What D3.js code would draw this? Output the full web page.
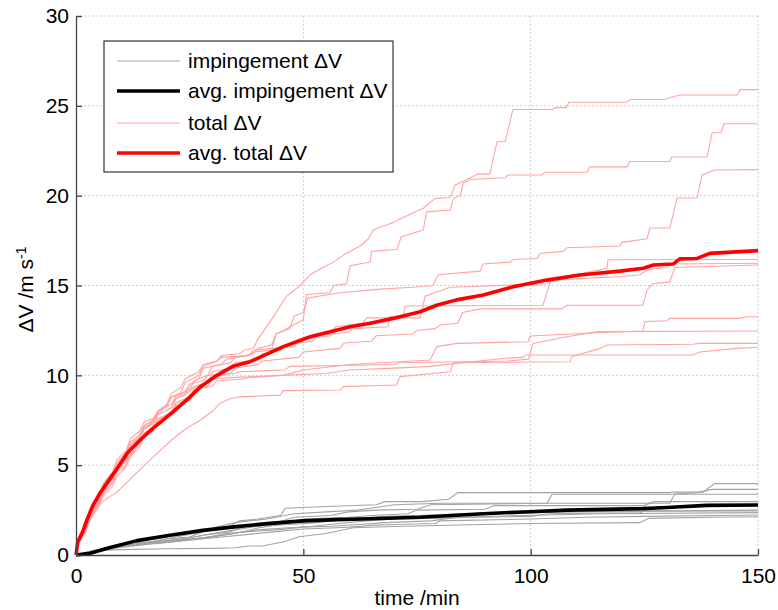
<!DOCTYPE html>
<html>
<head>
<meta charset="utf-8">
<script src="https://cdn.jsdelivr.net/npm/d3@7"></script>
<style>
  body { margin: 0; background: #fff; }
  svg text { font-family: "Liberation Sans", Arial, sans-serif; fill: #000; }
</style>
</head>
<body>
<div id="chart"></div>
<script>
/*
   Delta-V over time, single runs and averages (D3 v7)
*/

// axis ticks
var xTicks = [0, 50, 100, 150];
var yTicks = [0, 5, 10, 15, 20, 25, 30];

// legend labels
var legendLabels = ["impingement \u0394V", "avg. impingement \u0394V", "total \u0394V", "avg. total \u0394V"];

// single runs, impingement dV  [time min, dV m/s]
var imp1 = [[0,0],[3,0.15],[8,0.4],[12,0.6],[16,0.7],[20,0.9],[25,1.0],[28,1.3],[33,1.5],[36,1.9],[40,2.0],[45,2.2],[46,2.6],[55,2.7],[66,2.8],[68,2.97],[76,2.97],[82,3.1],[84,3.47],[130.6,3.47],[131,3.5],[138,3.5],[139,3.7],[140.5,3.97],[150,3.97]];
var imp2 = [[0,0],[3,0.2],[8,0.45],[12,0.55],[18,0.8],[22,1.0],[26,1.2],[30,1.5],[35,1.8],[38,1.9],[42,2.0],[48,2.3],[55,2.4],[62,2.5],[70,2.8],[80,2.88],[130.6,2.88],[131.7,3.4],[136.6,3.47],[139.9,3.65],[150,3.65]];
var imp3 = [[0,0],[4,0.2],[9,0.5],[13,0.7],[18,0.75],[24,0.9],[28,1.1],[34,1.3],[38,1.7],[44,1.8],[48,2.1],[56,2.2],[60,2.4],[66,2.5],[75,2.55],[78,2.8],[103.6,2.88],[104.7,3.38],[150,3.38]];
var imp4 = [[0,0],[5,0.25],[9,0.5],[14,0.6],[20,0.75],[26,0.9],[30,1.0],[35,1.2],[40,1.5],[45,1.7],[50,2.0],[60,2.1],[65,2.2],[73,2.3],[75,2.5],[90,2.55],[92,2.75],[125,2.75],[127,2.97],[150,2.97]];
var imp5 = [[0,0],[4,0.15],[9,0.4],[14,0.55],[20,0.7],[26,0.9],[32,1.1],[36,1.25],[40,1.4],[46,1.5],[52,1.6],[58,1.75],[64,1.9],[70,2.0],[80,2.05],[88,2.1],[100,2.15],[104,2.3],[124,2.35],[125,2.45],[150,2.45]];
var imp6 = [[0,0],[5,0.2],[10,0.45],[15,0.6],[22,0.8],[28,0.95],[33,1.2],[38,1.3],[44,1.4],[50,1.55],[56,1.6],[62,1.7],[68,1.8],[78,1.9],[84,2.1],[98,2.2],[115,2.3],[150,2.36]];
var imp7 = [[0,0],[5,0.25],[10,0.3],[20,0.35],[30,0.37],[35,0.4],[38,0.5],[41,0.5],[46,0.75],[49,1.02],[55,1.2],[61,1.52],[72,1.6],[89.5,1.7],[100,1.75],[124,1.8],[126,2.04],[140,2.1],[150,2.13]];
var imp8 = [[0,0],[4,0.2],[9,0.45],[14,0.6],[20,0.7],[26,0.85],[32,1.0],[38,1.15],[44,1.3],[50,1.45],[56,1.5],[60,1.55],[65,1.65],[70,1.7],[79,1.75],[80,1.9],[100,2.0],[112,2.1],[125,2.15],[150,2.23]];
var imp9 = [[0,0],[4,0.2],[9,0.5],[14,0.6],[20,0.8],[26,1.0],[30,1.2],[35,1.4],[40,1.6],[47,1.7],[53,1.8],[60,2.0],[68,2.15],[75,2.2],[85,2.3],[100,2.35],[110,2.4],[150,2.5]];

// single runs, total dV
var tot1 = [[0,0],[0.5,0.8],[2,1.6],[3,2.4],[5,3.2],[6,4.0],[8,4.6],[9,5.3],[11,5.8],[12,6.5],[14,6.9],[15,7.4],[17,7.6],[18,8.0],[20,8.3],[21,8.8],[23,9.0],[24,9.6],[27,10.0],[28,10.5],[31,10.8],[32,11.1],[36,11.2],[37,11.4],[39,11.5],[40,12.0],[42.7,12.99],[46.3,14.4],[49.3,15.0],[51.5,15.6],[54,15.96],[56.6,16.3],[59.2,16.75],[62.5,17.2],[64.3,17.6],[65.4,18.1],[69.8,18.5],[71.3,18.7],[74.2,19.05],[76.4,19.3],[79,19.85],[82.3,19.9],[83.4,20.6],[85.2,20.8],[88.4,21.2],[91,21.2],[92.6,23.0],[94.4,23.0],[96.1,24.8],[104.7,24.8],[105.6,24.9],[107.8,24.9],[108.4,25.2],[121.2,25.2],[122,25.35],[129.5,25.35],[130.6,25.45],[132.8,25.6],[145.4,25.6],[146,25.9],[150,25.9]];
var tot2 = [[0,0],[0.7,0.9],[2,1.4],[3,2.2],[4.5,2.8],[5.5,3.6],[8,4.3],[9,5.0],[11,5.6],[12,6.2],[14,6.6],[15,7.1],[17,7.4],[18,7.8],[21,8.2],[22,8.7],[24,8.9],[25,9.5],[27,9.8],[28,10.4],[32,10.6],[33,10.9],[38,11.1],[39,11.3],[43,11.4],[44,12.3],[45.6,12.5],[50,13.1],[50.7,14.5],[55.9,14.6],[56.6,15.0],[59.5,15.1],[60.3,16.1],[64.7,16.3],[65,16.9],[70.6,17.0],[71.5,17.7],[76.4,18.1],[77.1,19.1],[82.3,19.2],[83,19.85],[84.5,20.0],[85.2,20.7],[86.7,20.9],[94.4,21.0],[95,21.15],[102.5,21.15],[103.1,21.3],[112.4,21.3],[113,21.6],[121.2,21.6],[121.8,21.9],[130.6,21.9],[131,22.15],[138.8,22.15],[139.9,23.5],[141.9,23.5],[142.5,24.0],[150,24.0]];
var tot3 = [[0,0],[0.5,0.7],[2,1.5],[3,2.1],[5,3.0],[6,3.7],[8,4.2],[9,4.9],[11,5.3],[12,5.9],[14,6.5],[15,7.0],[17,7.3],[18,7.8],[21,8.2],[22,8.9],[25,9.2],[26,9.7],[29,10.0],[30,10.5],[34,10.7],[35,11.0],[39,11.2],[40,11.5],[43,11.7],[44,12.3],[47,12.6],[48,13.3],[50,13.5],[51,14.3],[58,14.6],[66.9,14.8],[74.1,14.9],[78.5,15.0],[79.6,15.6],[88.9,15.8],[89.5,16.2],[95.5,16.3],[96.1,16.45],[101.4,16.5],[102.1,16.8],[107.1,16.9],[108,17.1],[119.6,17.2],[120.1,17.4],[125.6,17.6],[126.2,18.2],[130.6,18.2],[132.2,19.87],[136.6,19.87],[137.7,21.15],[140.5,21.43],[150,21.45]];
var tot4 = [[0,0],[0.6,0.8],[2,1.3],[3,2.0],[5,2.9],[6,3.5],[8,4.0],[9,4.7],[11,5.2],[12,5.8],[14,6.3],[15,6.8],[17,7.1],[18,7.6],[21,7.9],[22,8.5],[25,8.8],[26,9.3],[29,9.6],[30,10.2],[34,10.4],[35,10.7],[40,10.9],[41,11.2],[45,11.4],[46,11.7],[52,11.9],[53,12.2],[60,12.4],[61,12.6],[68.6,12.7],[69,13.26],[72,13.36],[72.4,13.86],[102.7,13.9],[104.3,15.2],[108,15.5],[116.8,15.96],[117,16.43],[150,16.45]];
var tot5 = [[0,0],[0.5,0.9],[2,1.7],[3,2.5],[5,3.3],[6,3.9],[8,4.5],[9,5.1],[11,5.7],[12,6.3],[14,6.7],[15,7.2],[17,7.5],[18,8.0],[20,8.4],[21,9.0],[23,9.3],[24,9.8],[27,10.2],[28,10.6],[31,10.8],[32,11.0],[38,11.1],[39,11.4],[48,11.6],[49,12.0],[56,12.2],[57,12.7],[63,12.9],[64,13.2],[75.7,13.2],[76.8,14.4],[82.3,14.9],[103.6,15.1],[105,15.3],[120,15.5],[124,15.6],[126,15.9],[130,16.0],[131,16.2],[150,16.24]];
var tot6 = [[0,0],[0.6,0.7],[2,1.2],[3,1.9],[5,2.7],[6,3.3],[8,3.8],[9,4.4],[11,4.9],[12,5.5],[14,6.0],[15,6.6],[17,6.9],[18,7.4],[21,7.8],[22,8.3],[25,8.6],[26,9.1],[29,9.4],[30,9.9],[34,10.1],[35,10.4],[40,10.6],[41,10.8],[49,11.0],[50,11.3],[58,11.5],[59,11.8],[65,11.9],[66,12.2],[74,12.3],[75,12.5],[79,12.6],[80,12.8],[84,12.9],[85,13.5],[88.9,13.7],[106.8,13.7],[108,13.9],[124.7,13.9],[125.6,14.75],[126.8,15.1],[130.6,15.2],[131.7,16.0],[150,16.14]];
var tot7 = [[0,0],[0.5,0.6],[2,1.3],[3,2.0],[5,2.8],[6,3.4],[8,4.0],[9,4.6],[11,5.0],[12,5.6],[14,6.2],[15,6.8],[17,7.1],[18,7.5],[21,8.0],[22,8.4],[25,8.7],[26,9.2],[30,9.4],[31,9.7],[37,9.8],[38.3,9.93],[45.6,10.0],[50,10.3],[60.3,10.6],[77.9,10.85],[79.4,11.6],[83.8,11.78],[99.4,11.87],[99.9,12.19],[114.6,12.37],[124.7,12.47],[125.1,12.99],[130,13.04],[130.6,13.17],[146,13.17],[147.6,13.26],[150,13.26]];
var tot8 = [[0,0],[0.7,0.8],[2,1.4],[3,2.2],[5,3.0],[6,3.6],[8,4.2],[9,4.8],[11,5.4],[12,6.0],[14,6.5],[15,7.0],[17,7.4],[18,7.9],[20,8.3],[21,8.8],[24,9.1],[25,9.5],[28,9.7],[29,10.0],[35,10.1],[36,10.2],[46,10.3],[47,10.5],[70,10.6],[71,10.7],[95,10.8],[99.5,10.9],[100.5,11.78],[108,12.15],[114.6,12.43],[150,12.47]];
var tot9 = [[0,0],[0.5,0.7],[2,1.5],[4,2.5],[6,3.0],[9,3.5],[12.5,4.36],[16.3,5.3],[21,6.4],[24,7.0],[27.3,7.5],[30,8.0],[31.7,8.45],[33.9,8.7],[36,8.8],[44.9,8.9],[45.6,9.15],[58.1,9.18],[58.8,9.37],[70.5,9.46],[71.3,9.93],[82.3,10.2],[83,10.7],[108.7,10.76],[109,11.04],[115.3,11.5],[116.8,11.69],[135.7,11.73],[137,11.78],[150,11.78]];
var tot10 = [[0,0],[0.5,0.7],[2,1.5],[3,2.3],[5,3.1],[6,3.8],[8,4.4],[9,5.0],[11,5.5],[12,6.1],[14,6.6],[15,7.2],[17,7.5],[18,8.0],[21,8.4],[22,8.8],[25,9.1],[26,9.4],[29,9.6],[30,9.8],[36,9.9],[40,9.9],[45,10.0],[55,10.1],[60,10.3],[70,10.4],[78,10.5],[85,10.7],[94.4,10.95],[98.3,11.0],[99,11.13],[135.7,11.13],[137.2,11.3],[145.4,11.5],[150,11.56]];

// averages
var avgImp = [[0,0],[3.1,0.1],[7.5,0.42],[13.4,0.8],[20.7,1.1],[27.9,1.37],[35.3,1.58],[42.7,1.76],[49.9,1.9],[57.3,1.97],[64.7,2.02],[75.7,2.1],[89.5,2.3],[99.9,2.41],[107.9,2.5],[124.7,2.58],[130,2.64],[138.7,2.76],[150,2.78]];
var avgTot = [[0,0],[0.4,0.74],[1.5,1.3],[2.4,1.95],[3.7,2.75],[5.3,3.45],[7.5,4.25],[9.7,5.05],[11.2,5.65],[14.1,6.4],[16.9,7.05],[21.3,7.95],[25.1,8.8],[27.3,9.35],[31,10.0],[34.5,10.5],[38.3,10.76],[45.6,11.6],[51.5,12.15],[60.3,12.7],[64.7,12.9],[69.8,13.17],[75.7,13.54],[79.3,13.9],[83.7,14.2],[89.6,14.47],[96.2,14.93],[103.5,15.3],[110.8,15.58],[119.6,15.8],[124.8,15.96],[127,16.14],[131.4,16.2],[132.8,16.48],[136.5,16.5],[139.4,16.79],[150,16.94]];

var impRuns = [imp1, imp2, imp3, imp4, imp5, imp6, imp7, imp8, imp9];
var totRuns = [tot1, tot2, tot3, tot4, tot5, tot6, tot7, tot8, tot9, tot10];

var margin = {top: 16, right: 20, bottom: 55, left: 76};
var width = 778 - margin.left - margin.right;   // 682
var height = 610 - margin.top - margin.bottom;  // 539

var fontSize = 21;

var svg = d3.select("#chart").append("svg")
    .attr("width", 778)
    .attr("height", 610)
  .append("g")
    .attr("transform", "translate(" + margin.left + "," + margin.top + ")");

var x = d3.scaleLinear().domain([0, 150]).range([0, width]);
var y = d3.scaleLinear().domain([0, 30]).range([height, 0]);

// dotted grid
svg.append("g").selectAll("line")
    .data(xTicks.slice(1))
    .enter().append("line")
    .attr("x1", function(d) { return x(d); }).attr("x2", function(d) { return x(d); })
    .attr("y1", 0).attr("y2", height)
    .attr("stroke", "#cfcfcf").attr("stroke-width", 1).attr("stroke-dasharray", "2,2");

svg.append("g").selectAll("line")
    .data(yTicks.slice(1))
    .enter().append("line")
    .attr("x1", 0).attr("x2", width)
    .attr("y1", function(d) { return y(d); }).attr("y2", function(d) { return y(d); })
    .attr("stroke", "#cfcfcf").attr("stroke-width", 1).attr("stroke-dasharray", "2,2");

var line = d3.line()
    .x(function(d) { return x(d[0]); })
    .y(function(d) { return y(d[1]); });

// series
svg.append("g").selectAll("path")
    .data(impRuns)
    .enter().append("path")
    .attr("d", line)
    .attr("fill", "none").attr("stroke", "#a3a3a3").attr("stroke-width", 1.1);

svg.append("path").datum(avgImp)
    .attr("d", line)
    .attr("fill", "none").attr("stroke", "#000").attr("stroke-width", 3.6)
    .attr("stroke-linejoin", "round");

svg.append("g").selectAll("path")
    .data(totRuns)
    .enter().append("path")
    .attr("d", line)
    .attr("fill", "none").attr("stroke", "#ffa4a4").attr("stroke-width", 1.1);

svg.append("path").datum(avgTot)
    .attr("d", line)
    .attr("fill", "none").attr("stroke", "#ff0000").attr("stroke-width", 3.6)
    .attr("stroke-linejoin", "round");

// axes, ticks pointing inward
var xAxis = d3.axisBottom(x).tickValues(xTicks).tickSizeInner(-6).tickSizeOuter(0).tickPadding(13);
var yAxis = d3.axisLeft(y).tickValues(yTicks).tickSizeInner(-6).tickSizeOuter(0).tickPadding(13);

var gx = svg.append("g")
    .attr("transform", "translate(0," + height + ")")
    .call(xAxis);
var gy = svg.append("g").call(yAxis);

[gx, gy].forEach(function(g) {
    g.select(".domain").attr("stroke", "#444").attr("stroke-width", 1.3);
    g.selectAll(".tick line").attr("stroke", "#444").attr("stroke-width", 1.3);
    g.selectAll(".tick text")
        .style("font-family", "'Liberation Sans', Arial, sans-serif")
        .style("font-size", fontSize + "px")
        .attr("fill", "#000");
});
gy.selectAll(".tick text").attr("x", -7);

// axis titles
svg.append("text")
    .attr("x", width / 2)
    .attr("y", height + 50)
    .style("text-anchor", "middle")
    .style("font-size", fontSize + "px")
    .text("time /min");

var yt = svg.append("text")
    .attr("transform", "translate(-43," + (height / 2 + 4) + ") rotate(-90)")
    .style("text-anchor", "middle")
    .style("font-size", fontSize + "px");
yt.append("tspan").text("\u0394V /m s");
yt.append("tspan").attr("dy", "-0.5em").style("font-size", "14px").text("-1");

// legend
var legend = svg.append("g").attr("transform", "translate(28,25)");
legend.append("rect")
    .attr("width", 289).attr("height", 131)
    .attr("fill", "#fff").attr("stroke", "#333").attr("stroke-width", 1.2);

var legendStyles = [
    {color: "#a3a3a3", w: 1.1},
    {color: "#000", w: 3.6},
    {color: "#ffa4a4", w: 1.1},
    {color: "#ff0000", w: 3.6}
];
var rowY = [20, 50, 82, 112];

var rows = legend.selectAll(".row")
    .data(legendLabels)
    .enter().append("g")
    .attr("transform", function(d, i) { return "translate(0," + rowY[i] + ")"; });

rows.append("line")
    .attr("x1", 13).attr("x2", 76).attr("y1", 0).attr("y2", 0)
    .attr("stroke", function(d, i) { return legendStyles[i].color; })
    .attr("stroke-width", function(d, i) { return legendStyles[i].w; });

rows.append("text")
    .attr("x", 84).attr("y", 7)
    .style("font-size", fontSize + "px")
    .text(function(d) { return d; });
</script>
</body>
</html>
